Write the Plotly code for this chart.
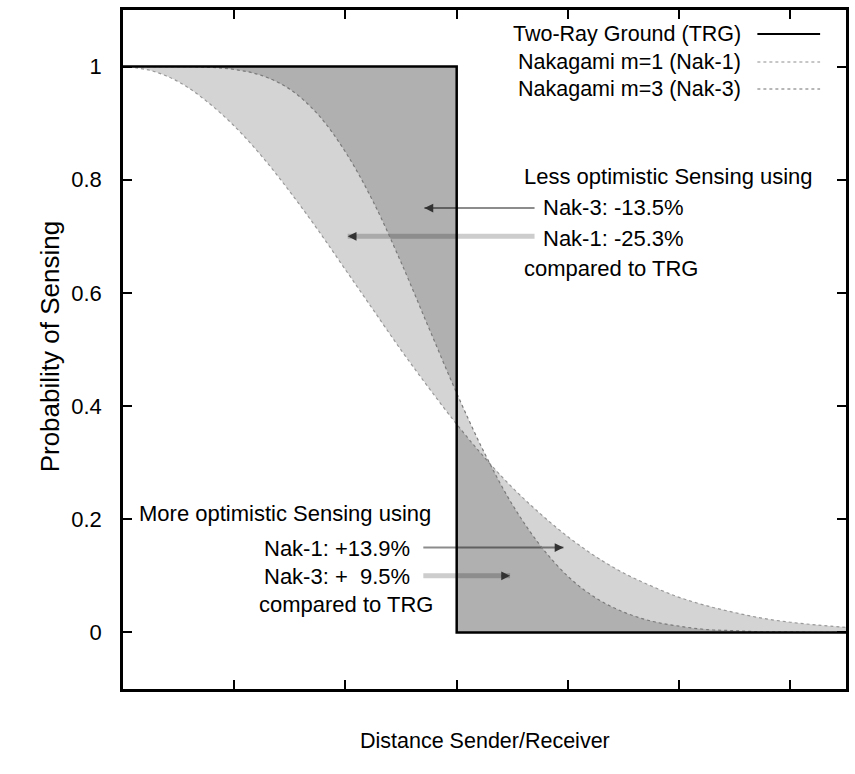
import plotly.graph_objects as go

# ---- data ----
distance = [0, 0.25, 0.5, 0.75, 1, 1.25, 1.5, 1.75, 2, 2.25, 2.5, 2.75, 3,
            3.25, 3.5, 3.75, 4, 4.25, 4.5, 4.75, 5, 5.25, 5.5, 5.75, 6, 6.25, 6.5]
nak1 = [1.000, 0.993, 0.973, 0.939, 0.895, 0.841, 0.779, 0.712, 0.641, 0.570,
        0.499, 0.432, 0.368, 0.309, 0.256, 0.210, 0.169, 0.134, 0.105, 0.082,
        0.062, 0.047, 0.035, 0.025, 0.018, 0.013, 0.009]
nak3 = [1.000, 1.000, 1.000, 0.999, 0.995, 0.984, 0.960, 0.916, 0.849, 0.761,
        0.654, 0.538, 0.423, 0.317, 0.226, 0.154, 0.099, 0.061, 0.036, 0.020,
        0.011, 0.005, 0.003, 0.001, 0.001, 0.000, 0.000]
trg_x = [0, 3, 3, 6.5]
trg_y = [1, 1, 0, 0]
y_ticks = [0, 0.2, 0.4, 0.6, 0.8, 1]
y_ticklabels = ["0", "0.2", "0.4", "0.6", "0.8", "1"]
legend_names = ["Two-Ray Ground (TRG)", "Nakagami m=1 (Nak-1)", "Nakagami m=3 (Nak-3)"]

FONT = "Liberation Sans, Arial, sans-serif"
FILL = "rgba(0,0,0,0.17)"

fig = go.Figure()
# base for Nak-1 fill
fig.add_trace(go.Scatter(x=trg_x, y=trg_y, mode="lines", line=dict(width=0),
                         showlegend=False, hoverinfo="skip"))
fig.add_trace(go.Scatter(x=distance, y=nak1, mode="lines", fill="tonexty",
                         fillcolor=FILL, line=dict(color="#999999", width=1.2, dash="dot", shape="spline"),
                         name=legend_names[1], showlegend=False))
# base for Nak-3 fill
fig.add_trace(go.Scatter(x=trg_x, y=trg_y, mode="lines", line=dict(width=0),
                         showlegend=False, hoverinfo="skip"))
fig.add_trace(go.Scatter(x=distance, y=nak3, mode="lines", fill="tonexty",
                         fillcolor=FILL, line=dict(color="#7a7a7a", width=1.2, dash="dot", shape="spline"),
                         name=legend_names[2], showlegend=False))
# TRG step line
fig.add_trace(go.Scatter(x=trg_x, y=trg_y, mode="lines", line=dict(color="black", width=2.5),
                         name=legend_names[0], showlegend=False))

# arrow shafts (below the fills, so they darken where covered)
shafts = [
    (3.70, 0.75, 2.71, 0.75, "#8c8c8c", 2),
    (3.70, 0.70, 2.02, 0.70, "#cdcdcd", 5),
    (2.70, 0.15, 3.96, 0.15, "#8c8c8c", 2),
    (2.70, 0.10, 3.48, 0.10, "#cdcdcd", 5),
]
for x0, y0, x1, y1, c, w in shafts:
    fig.add_shape(type="line", xref="x", yref="y", x0=x0, y0=y0, x1=x1, y1=y1,
                  line=dict(color=c, width=w), layer="below")
    fig.add_annotation(x=x1, y=y1, xref="x", yref="y", ax=(10 if x1 < x0 else -10), ay=0,
                       text="", showarrow=True, arrowhead=2, arrowsize=1.1,
                       arrowwidth=1.6, arrowcolor="#333333")

W, H = 855, 774
def px(xp):
    return (xp - 123) / (849 - 123)
def py(yp):
    return (689 - yp) / (689 - 10)

def label(xp, yp, text, anchor="left", size=22):
    fig.add_annotation(x=px(xp), y=py(yp), xref="paper", yref="paper", text=text, showarrow=False,
                       xanchor=anchor, yanchor="middle", font=dict(family=FONT, size=size, color="black"))

label(524, 176, "Less optimistic Sensing using")
label(543, 208, "Nak-3: -13.5%")
label(543, 238, "Nak-1: -25.3%")
label(524, 268, "compared to TRG")

label(434, 513, "More optimistic Sensing using", "right")
label(413, 548, "Nak-1: +13.9%", "right")
label(413, 576, "Nak-3: +  9.5%", "right")
label(436, 604, "compared to TRG", "right")

# legend (manual: text right-aligned, sample to the right)
leg_y = [34, 62, 89]
leg_style = [dict(color="black", width=2), dict(color="#b4b4b4", width=1.5, dash="dot"),
             dict(color="#a0a0a0", width=1.5, dash="dot")]
for name, yy, st in zip(legend_names, leg_y, leg_style):
    label(746, yy, name, "right", 21.5)
    fig.add_shape(type="line", xref="paper", yref="paper", x0=px(760), x1=px(823),
                  y0=py(yy), y1=py(yy), line=st)

# axis titles
fig.add_annotation(x=px(33), y=py(347), xref="paper", yref="paper", text="Probability of Sensing",
                   textangle=-90, showarrow=False, font=dict(family=FONT, size=26, color="black"))
fig.add_annotation(x=px(487), y=py(755), xref="paper", yref="paper", text="Distance Sender/Receiver",
                   showarrow=False, font=dict(family=FONT, size=21.5, color="black"))

fig.update_xaxes(range=[0, 6.5], dtick=1, tick0=0, showticklabels=False, ticks="inside",
                 ticklen=9, tickwidth=2, tickcolor="black", showgrid=False, zeroline=False,
                 showline=True, linecolor="black", linewidth=2.5, mirror="ticks")
fig.update_yaxes(range=[-0.1, 1.1], tickvals=y_ticks, ticktext=y_ticklabels, ticks="inside",
                 ticklen=9, tickwidth=2, tickcolor="black", showgrid=False, zeroline=False,
                 showline=True, linecolor="black", linewidth=2.5, mirror="ticks",
                 tickfont=dict(family=FONT, size=22, color="black"), ticklabelstandoff=14)
fig.update_layout(width=W, height=H, margin=dict(l=123, r=6, t=10, b=85),
                  plot_bgcolor="white", paper_bgcolor="white")

fig.write_html("out.html")
